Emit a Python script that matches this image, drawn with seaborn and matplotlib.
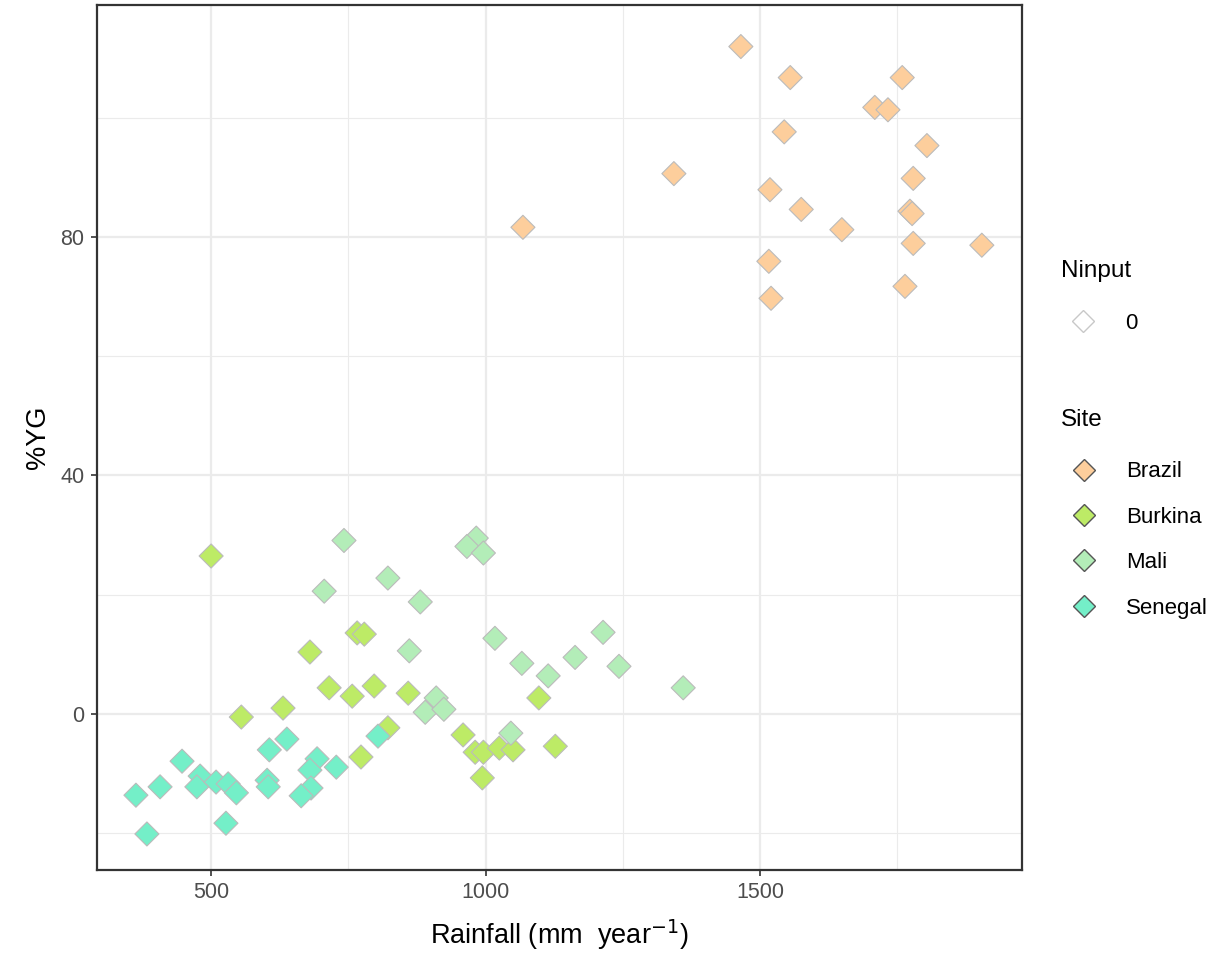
import pandas as pd
import seaborn as sns
import matplotlib.pyplot as plt
from matplotlib.lines import Line2D

# values
brazil_rain = [1465, 1555, 1759, 1709, 1733, 1544, 1804, 1343, 1518, 1779,
               1575, 1773, 1777, 1068, 1649, 1779, 1904, 1516, 1764, 1520]
brazil_yg = [111.9, 106.7, 106.7, 101.7, 101.3, 97.6, 95.3, 90.6, 87.9, 89.8,
             84.6, 84.3, 83.9, 81.6, 81.2, 78.9, 78.6, 75.9, 71.7, 69.7]

burkina_rain = [500, 680, 766, 779, 715, 757, 797, 859, 631, 555, 822, 773,
                1097, 959, 981, 996, 1025, 1050, 1127, 994]
burkina_yg = [26.5, 10.4, 13.6, 13.4, 4.4, 3.0, 4.7, 3.5, 1.0, -0.5, -2.3, -7.2,
              2.7, -3.5, -6.4, -6.4, -5.7, -6.0, -5.4, -10.7]

mali_rain = [742, 822, 706, 861, 881, 983, 966, 996, 1017, 1066, 1114, 1163,
             1214, 1243, 1360, 910, 890, 924, 1046]
mali_yg = [29.1, 22.8, 20.6, 10.6, 18.8, 29.5, 28.1, 27.0, 12.7, 8.5, 6.4, 9.5,
           13.7, 8.0, 4.4, 2.7, 0.3, 0.8, -3.2]

senegal_rain = [363, 407, 383, 447, 480, 474, 509, 531, 546, 527, 606, 638,
                602, 604, 693, 680, 682, 664, 728, 804]
senegal_yg = [-13.6, -12.2, -20.1, -7.9, -10.4, -12.2, -11.4, -11.7, -13.2, -18.3,
              -6.0, -4.2, -11.1, -12.2, -7.5, -9.4, -12.4, -13.7, -8.9, -3.7]

sites = ['Brazil', 'Burkina', 'Mali', 'Senegal']
site_colours = {'Brazil': '#FDCE9C', 'Burkina': '#BDEB66',
                'Mali': '#B3EDB8', 'Senegal': '#74EFC8'}

frames = []
for name, rain, yg in [('Brazil', brazil_rain, brazil_yg),
                       ('Burkina', burkina_rain, burkina_yg),
                       ('Mali', mali_rain, mali_yg),
                       ('Senegal', senegal_rain, senegal_yg)]:
    frames.append(pd.DataFrame({'Rainfall': rain, 'YG': yg, 'Site': name}))
df = pd.concat(frames, ignore_index=True)

sns.set_style('white')
plt.rcParams['font.family'] = ['Liberation Sans', 'DejaVu Sans']
plt.rcParams['text.color'] = 'black'
plt.rcParams['axes.labelcolor'] = 'black'

fig = plt.figure(figsize=(12.18, 9.6), dpi=100)
ax = fig.add_axes([0.0796, 0.094, 0.7594, 0.901])

sns.scatterplot(data=df, x='Rainfall', y='YG', hue='Site', palette=site_colours,
                marker='D', s=150, edgecolor='#BBBBBB', linewidth=0.8,
                legend=False, zorder=3, ax=ax)

ax.set_xlim(292, 1977)
ax.set_ylim(-26.1, 118.9)
ax.set_xticks([500, 1000, 1500])
ax.set_yticks([0, 40, 80])
ax.set_xticks([750, 1250, 1750], minor=True)
ax.set_yticks([-20, 20, 60, 100], minor=True)
ax.grid(which='major', color='#EBEBEB', linewidth=1.6, zorder=0)
ax.grid(which='minor', color='#EBEBEB', linewidth=0.8, zorder=0)
ax.set_axisbelow(True)
for sp in ax.spines.values():
    sp.set_color('#333333')
    sp.set_linewidth(1.6)
ax.tick_params(which='major', length=4, width=1.2, color='#333333', labelsize=15.5,
               labelcolor='#4D4D4D', bottom=True, left=True, pad=5)
ax.tick_params(which='minor', length=0)

ax.set_xlabel('Rainfall (mm  year$^{-1}$)', fontsize=19.5, labelpad=10)
ax.set_ylabel('%YG', fontsize=19.5, labelpad=7)

# two legends like the ggplot original
n_handles = [Line2D([], [], marker='D', linestyle='', markersize=11,
                    markerfacecolor='white', markeredgecolor='#C8C8C8')]
leg1 = fig.legend(n_handles, ['0'], title='Ninput', loc='upper left',
                  bbox_to_anchor=(0.858, 0.745), frameon=False, fontsize=16,
                  title_fontsize=17.5, handletextpad=0.9, borderaxespad=0.3)
leg1._legend_box.align = 'left'
leg1._legend_box.sep = 22

s_handles = [Line2D([], [], marker='D', linestyle='', markersize=11,
                    markerfacecolor=site_colours[s], markeredgecolor='#555555')
             for s in sites]
leg2 = fig.legend(s_handles, sites, title='Site', loc='upper left',
                  bbox_to_anchor=(0.855, 0.595), frameon=False, fontsize=16,
                  title_fontsize=17.5, handletextpad=0.9, labelspacing=1.1)
leg2._legend_box.align = 'left'
leg2._legend_box.sep = 22

fig.savefig('out.png', dpi=100)
